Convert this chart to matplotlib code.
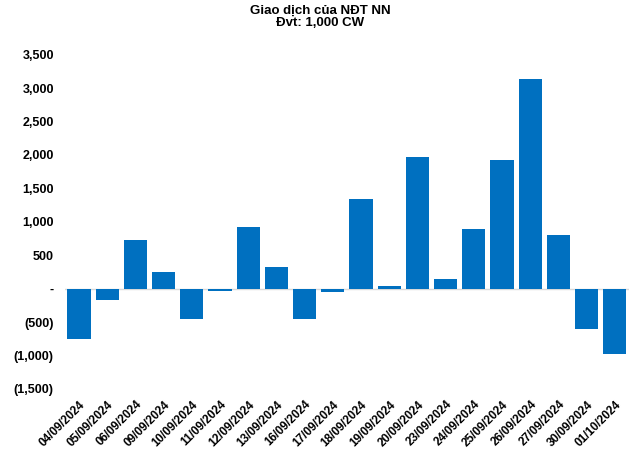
import numpy as np
import matplotlib.pyplot as plt
from matplotlib.ticker import FuncFormatter

plt.rcParams['font.family'] = ['Liberation Sans', 'DejaVu Sans']

# --- données ---
dates = ["04/09/2024", "05/09/2024", "06/09/2024", "09/09/2024", "10/09/2024",
         "11/09/2024", "12/09/2024", "13/09/2024", "16/09/2024", "17/09/2024",
         "18/09/2024", "19/09/2024", "20/09/2024", "23/09/2024", "24/09/2024",
         "25/09/2024", "26/09/2024", "27/09/2024", "30/09/2024", "01/10/2024"]
values = [-750, -170, 730, 250, -450, -40, 925, 330, -460, -55,
          1340, 45, 1970, 150, 895, 1925, 3135, 805, -600, -985]
yticks = [-1500, -1000, -500, 0, 500, 1000, 1500, 2000, 2500, 3000, 3500]


def fmt(v, pos):
    if v == 0:
        return "-"
    if v < 0:
        return f"({-v:,.0f})"
    return f"{v:,.0f}"


fig = plt.figure(figsize=(6.4, 4.49), dpi=100)
ax = fig.add_axes([0.1014, 0.134, 0.8813, 0.744])

x = np.arange(len(dates))
ax.bar(x, values, width=0.82, color="#0070C0", zorder=2)
ax.axhline(0, color="#D9D9D9", lw=1, zorder=1)

ax.set_xlim(-0.5, len(dates) - 0.5)
ax.set_ylim(-1500, 3500)
ax.set_yticks(yticks)
ax.yaxis.set_major_formatter(FuncFormatter(fmt))
ax.set_xticks(x)
ax.set_xticklabels(dates, rotation=45, ha="right", rotation_mode="anchor")

for s in ax.spines.values():
    s.set_visible(False)
ax.tick_params(axis="both", length=0)
ax.tick_params(axis="y", pad=8, labelsize=9)
ax.tick_params(axis="x", pad=7, labelsize=8.5)
for lab in ax.get_xticklabels() + ax.get_yticklabels():
    lab.set_fontweight("bold")

fig.text(0.5, 0.99, "Giao dịch của NĐT NN\nĐvt: 1,000 CW", ha="center", va="top",
         fontsize=9.5, fontweight="bold", linespacing=1.1)

fig.savefig("out.png", dpi=100)
